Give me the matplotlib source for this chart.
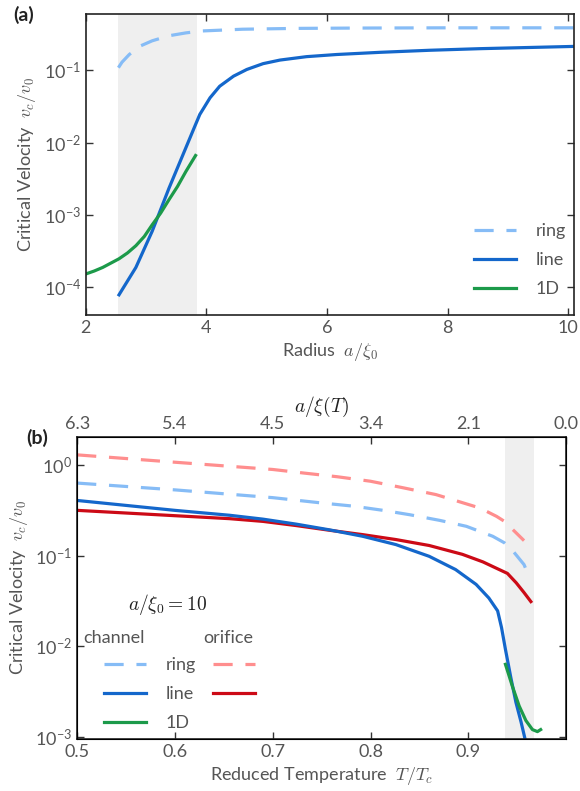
import numpy as np
import matplotlib
matplotlib.use("Agg")
import matplotlib.pyplot as plt
from matplotlib.ticker import FuncFormatter, FixedLocator, NullLocator

plt.rcParams['font.family'] = ['Lato', 'DejaVu Sans']
plt.rcParams['mathtext.fontset'] = 'cm'

# ---- colours ----
c_ring = '#86BCF6'
c_line = '#1467CB'
c_1d = '#1C9A4A'
c_oring = '#FF8E8E'
c_oline = '#CC0A16'
c_span = '#EFEFEF'
txt = '#555555'

# ---- panel (a): critical velocity vs radius ----
a_ring_x = [2.54, 2.6, 2.72, 2.91, 3.1, 3.38, 3.66, 3.93, 4.6, 5.5, 6.5, 8.0, 10.1]
a_ring_v = [0.109, 0.13, 0.166, 0.219, 0.257, 0.302, 0.331, 0.352, 0.372, 0.382, 0.386, 0.389, 0.389]

a_line_x = [2.55, 2.83, 3.10, 3.38, 3.66, 3.82, 3.89, 4.06, 4.22, 4.45, 4.67,
            4.94, 5.22, 5.66, 6.16, 6.88, 7.7, 8.54, 10.1]
a_line_v = [7.76e-5, 1.86e-4, 5.89e-4, 2.34e-3, 8.51e-3, 0.0178, 0.0245, 0.0417, 0.0603, 0.0832, 0.103,
            0.124, 0.139, 0.155, 0.166, 0.178, 0.19, 0.20, 0.215]

a_1d_x = [2.0, 2.14, 2.28, 2.55, 2.69, 2.83, 2.97, 3.10, 3.24, 3.38, 3.52, 3.66, 3.82]
a_1d_v = [1.51e-4, 1.66e-4, 1.86e-4, 2.45e-4, 2.95e-4, 3.72e-4, 5.0e-4, 7.24e-4, 1.05e-3,
          1.62e-3, 2.46e-3, 3.98e-3, 6.61e-3]

a_span = (2.53, 3.84)

# ---- panel (b): critical velocity vs reduced temperature ----
b_ring_T = [0.5, 0.6, 0.7, 0.752, 0.783, 0.813, 0.84, 0.871, 0.898, 0.925, 0.937, 0.946, 0.957, 0.963]
b_ring_v = [0.63, 0.53, 0.435, 0.378, 0.35, 0.315, 0.282, 0.244, 0.21, 0.163, 0.138, 0.111, 0.0794, 0.0555]

b_line_T = [0.5, 0.6, 0.656, 0.69, 0.724, 0.758, 0.792, 0.826, 0.86, 0.887, 0.908, 0.921,
            0.93, 0.934, 0.938, 0.9435, 0.9487, 0.954, 0.958]
b_line_v = [0.405, 0.315, 0.278, 0.252, 0.222, 0.192, 0.163, 0.132, 0.098, 0.070, 0.048, 0.034,
            0.0245, 0.016, 0.0092, 0.0045, 0.0024, 0.00145, 0.00095]

b_1d_T = [0.938, 0.945, 0.952, 0.9589, 0.9656, 0.9707, 0.974]
b_1d_v = [0.0063, 0.00363, 0.00219, 0.00151, 0.0012, 0.00114, 0.0012]

b_oring_T = [0.5, 0.6, 0.7, 0.733, 0.766, 0.8, 0.833, 0.867, 0.895, 0.912, 0.929, 0.937, 0.946, 0.957]
b_oring_v = [1.29, 1.07, 0.89, 0.81, 0.74, 0.66, 0.56, 0.47, 0.38, 0.334, 0.27, 0.238, 0.191, 0.146]

b_oline_T = [0.5, 0.6, 0.656, 0.69, 0.724, 0.758, 0.792, 0.826, 0.86, 0.894, 0.915, 0.928,
             0.94, 0.949, 0.957, 0.964]
b_oline_v = [0.315, 0.275, 0.255, 0.238, 0.214, 0.19, 0.17, 0.15, 0.129, 0.103, 0.085, 0.073,
             0.0635, 0.050, 0.039, 0.031]

b_span = (0.938, 0.967)
b_ticks = [0.5, 0.6, 0.7, 0.8, 0.9, 1.0]
b_top_labels = ['6.3', '5.4', '4.5', '3.4', '2.1', '0.0']

lw = 2.3
dash = (6, 4)


def sci(v, pos):
    return r'$\mathregular{10^{%d}}$' % int(round(np.log10(v)))


def style(ax):
    ax.tick_params(which='major', direction='in', length=5, width=1, colors='#333333',
                   labelcolor=txt, labelsize=13, top=True, right=True)
    ax.yaxis.set_minor_locator(NullLocator())
    ax.xaxis.set_minor_locator(NullLocator())
    for s in ax.spines.values():
        s.set_color('#222222')
        s.set_linewidth(1.2)


fig = plt.figure(figsize=(5.8, 7.91), dpi=100)

# ===== (a) =====
ax = fig.add_axes([0.148, 0.602, 0.842, 0.380])
ax.axvspan(*a_span, color=c_span, lw=0, zorder=0)
ax.plot(a_ring_x, a_ring_v, color=c_ring, lw=lw, dashes=dash, label='ring')
ax.plot(a_line_x, a_line_v, color=c_line, lw=lw, label='line')
ax.plot(a_1d_x, a_1d_v, color=c_1d, lw=lw, label='1D')
ax.set_yscale('log')
ax.set_xlim(2, 10.1)
ax.set_ylim(4.1e-5, 0.6)
ax.set_xticks([2, 4, 6, 8, 10])
ax.yaxis.set_major_locator(FixedLocator([1e-4, 1e-3, 1e-2, 1e-1]))
ax.yaxis.set_major_formatter(FuncFormatter(sci))
style(ax)
ax.set_xlabel(r'Radius  $a/\xi_0$', fontsize=13, color=txt, labelpad=4)
ax.set_ylabel(r'Critical Velocity  $v_c/v_0$', fontsize=13, color=txt, labelpad=4)
ax.legend(loc='upper left', bbox_to_anchor=(0.777, 0.335), frameon=False, fontsize=13,
          handlelength=2.3, handletextpad=1.1, labelspacing=0.72, borderpad=0, labelcolor=txt)
fig.text(0.022, 0.981, '(a)', fontsize=14, fontweight='bold', va='center', ha='left', color='#222222')

# ===== (b) =====
bx = fig.add_axes([0.133, 0.066, 0.843, 0.382])
bx.axvspan(*b_span, color=c_span, lw=0, zorder=0)
h_oring, = bx.plot(b_oring_T, b_oring_v, color=c_oring, lw=lw, dashes=dash)
h_ring, = bx.plot(b_ring_T, b_ring_v, color=c_ring, lw=lw, dashes=dash)
h_oline, = bx.plot(b_oline_T, b_oline_v, color=c_oline, lw=lw)
h_line, = bx.plot(b_line_T, b_line_v, color=c_line, lw=lw)
h_1d, = bx.plot(b_1d_T, b_1d_v, color=c_1d, lw=lw)
bx.set_yscale('log')
bx.set_xlim(0.5, 1.0)
bx.set_ylim(0.95e-3, 2.05)
bx.set_xticks(b_ticks[:-1])
bx.yaxis.set_major_locator(FixedLocator([1e-3, 1e-2, 1e-1, 1e0]))
bx.yaxis.set_major_formatter(FuncFormatter(sci))
style(bx)
bx.tick_params(top=False)
bx.set_xlabel(r'Reduced Temperature  $T/T_c$', fontsize=13, color=txt, labelpad=4)
bx.set_ylabel(r'Critical Velocity  $v_c/v_0$', fontsize=13, color=txt, labelpad=4)

tx = bx.twiny()
tx.set_xlim(bx.get_xlim())
tx.set_xticks(b_ticks)
tx.set_xticklabels(b_top_labels)
tx.tick_params(direction='in', length=5, width=1, colors='#333333', labelcolor=txt, labelsize=13)
tx.xaxis.set_minor_locator(NullLocator())
tx.set_xlabel(r'$a/\xi(T)$', fontsize=14, color='#222222', labelpad=3)

bx.text(0.184, 0.444, r'$a/\xi_0 = 10$', transform=bx.transAxes, fontsize=14,
        ha='center', va='center', color='#222222')
bx.text(0.012, 0.334, 'channel', transform=bx.transAxes, fontsize=13, ha='left', va='center', color=txt)
bx.text(0.258, 0.334, 'orifice', transform=bx.transAxes, fontsize=13, ha='left', va='center', color=txt)

leg1 = bx.legend([h_ring, h_line, h_1d], ['ring', 'line', '1D'], loc='upper left',
                 bbox_to_anchor=(0.037, 0.30), frameon=False, fontsize=13, handlelength=2.3,
                 handletextpad=1.1, labelspacing=0.72, borderpad=0, labelcolor=txt)
bx.add_artist(leg1)
bx.legend([h_oring, h_oline], ['', ''], loc='upper left',
          bbox_to_anchor=(0.26, 0.30), frameon=False, fontsize=13, handlelength=2.3,
          handletextpad=0.0, labelspacing=0.72, borderpad=0)
fig.text(0.045, 0.446, '(b)', fontsize=14, fontweight='bold', va='center', ha='left', color='#222222')

fig.savefig('out.png', dpi=100)
